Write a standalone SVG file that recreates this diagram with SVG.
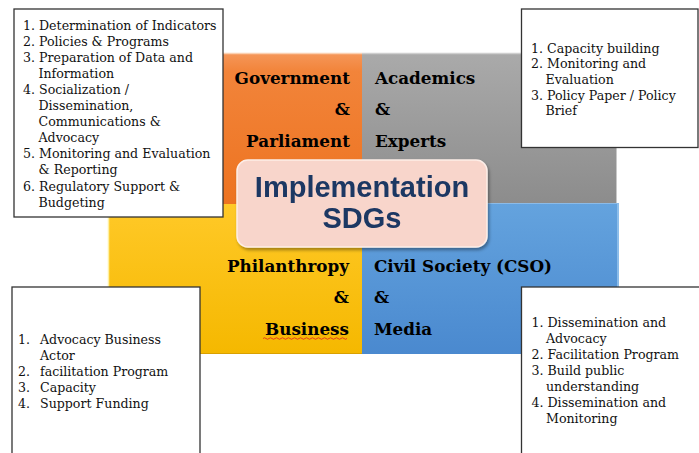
<svg xmlns="http://www.w3.org/2000/svg" width="699" height="453" viewBox="0 0 699 453">
<defs>
<linearGradient id="gOrange" x1="0" y1="0" x2="0" y2="1"><stop offset="0" stop-color="#f5975a"/><stop offset="0.12" stop-color="#f2843a"/><stop offset="1" stop-color="#ed7320"/></linearGradient>
<linearGradient id="gGray" x1="0" y1="0" x2="0" y2="1"><stop offset="0" stop-color="#aaaaaa"/><stop offset="1" stop-color="#8c8c8c"/></linearGradient>
<linearGradient id="gYellow" x1="0" y1="0" x2="0" y2="1"><stop offset="0" stop-color="#ffc928"/><stop offset="1" stop-color="#f5b800"/></linearGradient>
<linearGradient id="gBlue" x1="0" y1="0" x2="0" y2="1"><stop offset="0" stop-color="#64a3de"/><stop offset="1" stop-color="#4a89cf"/></linearGradient>
<filter id="sh" x="-10%" y="-10%" width="130%" height="140%"><feDropShadow dx="1.5" dy="2.5" stdDeviation="1.5" flood-color="#000" flood-opacity="0.35"/></filter>
</defs>
<style>
.box{fill:#fff;stroke:#333;stroke-width:1.3}
.lst{font-family:"DejaVu Serif","Liberation Serif",serif;font-size:12.6px;fill:#111}
.lbl{font-family:"DejaVu Serif","Liberation Serif",serif;font-size:16.8px;font-weight:bold;fill:#000}
.r{text-anchor:end}
.ttl{font-family:"Liberation Sans",Arial,sans-serif;font-weight:bold;font-size:29px;fill:#1f3864;text-anchor:middle}
</style>
<rect width="699" height="453" fill="#fff"/>
<g id="quadrants">
<g id="q-government"><rect x="108" y="53" width="254" height="152" fill="url(#gOrange)"/><line x1="108" y1="53.5" x2="362" y2="53.5" stroke="#fbd0b0" stroke-width="1.5"/></g>
<g id="q-academics"><rect x="362" y="53" width="255" height="151" fill="url(#gGray)"/><line x1="362" y1="53.5" x2="617" y2="53.5" stroke="#cfcfcf" stroke-width="1.5"/><line x1="616.5" y1="53" x2="616.5" y2="204" stroke="#c8c8c8" stroke-width="1"/></g>
<g id="q-philanthropy"><rect x="108" y="204" width="254" height="150" fill="url(#gYellow)"/><line x1="108.5" y1="204" x2="108.5" y2="354" stroke="#fff0a0" stroke-width="1.5"/><line x1="108" y1="353.5" x2="362" y2="353.5" stroke="#d9a000" stroke-width="1"/></g>
<g id="q-civil"><rect x="362" y="203" width="257" height="151" fill="url(#gBlue)"/><line x1="618" y1="203" x2="618" y2="354" stroke="#9cc8ef" stroke-width="1.5"/><line x1="362" y1="203.5" x2="619" y2="203.5" stroke="#8bbbe8" stroke-width="1"/></g>
</g>
<g id="labels">
<text class="lbl r" x="350" y="84">Government</text>
<text class="lbl r" x="350" y="115">&amp;</text>
<text class="lbl r" x="350" y="147">Parliament</text>
<text class="lbl" x="375" y="84">Academics</text>
<text class="lbl" x="375" y="115">&amp;</text>
<text class="lbl" x="375" y="147">Experts</text>
<text class="lbl r" x="349" y="272">Philanthropy</text>
<text class="lbl r" x="349" y="303">&amp;</text>
<text class="lbl r" x="349" y="335">Business</text>
<path d="M263 338.5 q1.5 -1.5 3 0 t3 0 t3 0 t3 0 t3 0 t3 0 t3 0 t3 0 t3 0 t3 0 t3 0 t3 0 t3 0 t3 0 t3 0 t3 0 t3 0 t3 0 t3 0 t3 0 t3 0 t3 0 t3 0 t3 0 t3 0 t3 0 t3 0 t3 0" fill="none" stroke="#e02020" stroke-width="0.8"/>
<text class="lbl" x="374" y="272">Civil Society (CSO)</text>
<text class="lbl" x="374" y="303">&amp;</text>
<text class="lbl" x="374" y="335">Media</text>
</g>
<g id="center" filter="url(#sh)">
<rect x="237" y="160" width="250" height="87" rx="11" fill="#f8d5cb" stroke="#fdeee8" stroke-width="1.5"/>
<text class="ttl" x="362" y="197">Implementation</text>
<text class="ttl" x="362" y="228">SDGs</text>
</g>
<g id="box-gov">
<rect class="box" x="14" y="9" width="209" height="208"/>
<text class="lst" x="23" y="29.5">1. Determination of Indicators</text>
<text class="lst" x="23" y="45.6">2. Policies &amp; Programs</text>
<text class="lst" x="23" y="61.7">3. Preparation of Data and</text>
<text class="lst" x="38.5" y="77.8">Information</text>
<text class="lst" x="23" y="93.9">4. Socialization /</text>
<text class="lst" x="38.5" y="110">Dissemination,</text>
<text class="lst" x="38.5" y="126.1">Communications &amp;</text>
<text class="lst" x="38.5" y="142.2">Advocacy</text>
<text class="lst" x="23" y="158.3">5. Monitoring and Evaluation</text>
<text class="lst" x="38.5" y="174.4">&amp; Reporting</text>
<text class="lst" x="23" y="190.5">6. Regulatory Support &amp;</text>
<text class="lst" x="38.5" y="206.6">Budgeting</text>
</g>
<g id="box-academics">
<rect class="box" x="521.5" y="9" width="176.5" height="138.5"/>
<text class="lst" x="531" y="52.7">1. Capacity building</text>
<text class="lst" x="531" y="68.3">2. Monitoring and</text>
<text class="lst" x="545.5" y="83.9">Evaluation</text>
<text class="lst" x="531" y="99.5">3. Policy Paper / Policy</text>
<text class="lst" x="545.5" y="115.1">Brief</text>
</g>
<g id="box-philanthropy">
<rect class="box" x="12" y="287" width="188" height="175"/>
<text class="lst" x="18" y="344">1.</text><text class="lst" x="40" y="344">Advocacy Business</text>
<text class="lst" x="40" y="360">Actor</text>
<text class="lst" x="18" y="376">2.</text><text class="lst" x="40" y="376">facilitation Program</text>
<text class="lst" x="18" y="392">3.</text><text class="lst" x="40" y="392">Capacity</text>
<text class="lst" x="18" y="408">4.</text><text class="lst" x="40" y="408">Support Funding</text>
</g>
<g id="box-civil">
<rect class="box" x="521.5" y="287" width="190" height="175"/>
<text class="lst" x="531.5" y="327">1. Dissemination and</text>
<text class="lst" x="546" y="343">Advocacy</text>
<text class="lst" x="531.5" y="359">2. Facilitation Program</text>
<text class="lst" x="531.5" y="375">3. Build public</text>
<text class="lst" x="546" y="391">understanding</text>
<text class="lst" x="531.5" y="407">4. Dissemination and</text>
<text class="lst" x="546" y="423">Monitoring</text>
</g>
<g id="connectors"/>
</svg>
